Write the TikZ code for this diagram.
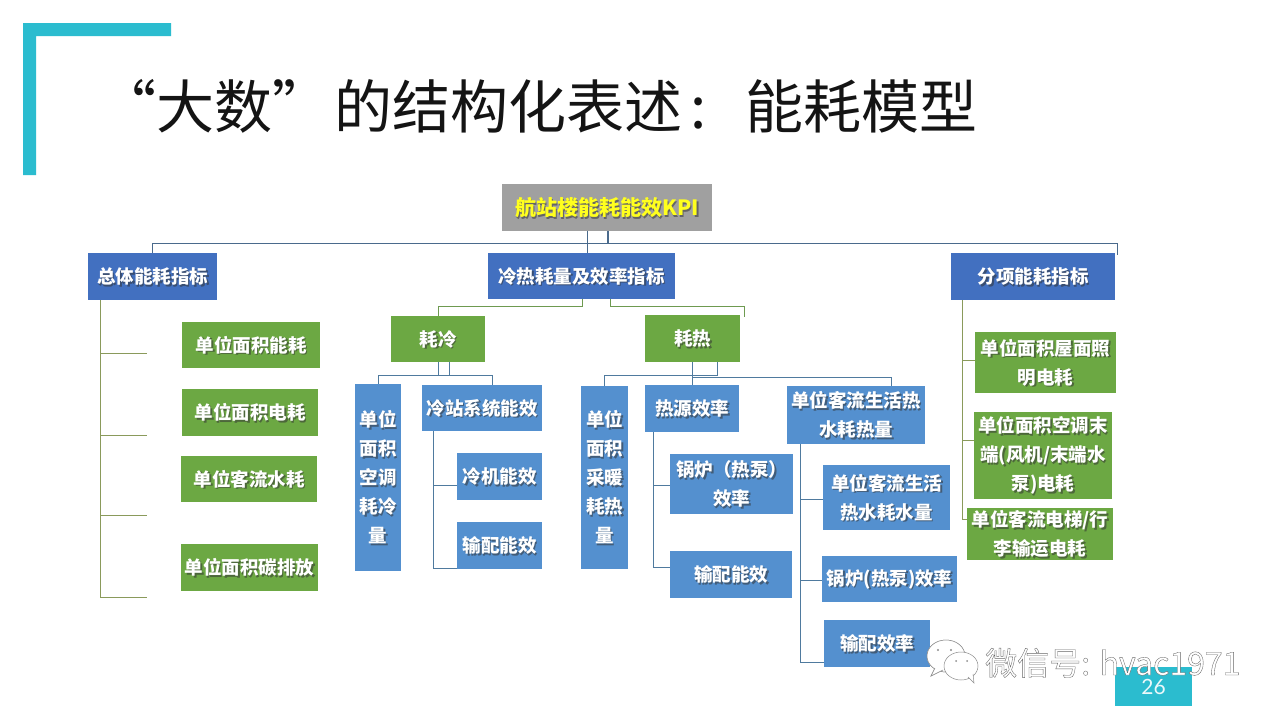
\documentclass[tikz,border=0pt]{standalone}
\usepackage{fontspec}
\setmainfont{Noto Sans CJK SC}
\newfontfamily\latinlight{Lato}
\definecolor{cyanbar}{HTML}{2BBCCF}
\definecolor{lvlone}{HTML}{4270C0}
\definecolor{lvltwo}{HTML}{5490CF}
\definecolor{leafgreen}{HTML}{6CA843}
\definecolor{kpigray}{HTML}{A0A0A0}
\definecolor{kpiyellow}{HTML}{FFFF1E}
\definecolor{linkblue}{HTML}{4F7A9E}
\definecolor{linkdark}{HTML}{4A6A8C}
\definecolor{linkgreen}{HTML}{6E9A50}
\definecolor{linkolive}{HTML}{8A9A5B}
\tikzset{
  boxbase/.style={inner sep=0pt,outer sep=0pt,align=center,text=white,
    font=\fontsize{18.5}{29}\selectfont\bfseries},
  topbox/.style={boxbase,text=kpiyellow,font=\fontsize{21}{29}\selectfont\bfseries},
  linkb/.style={draw=linkblue,line width=1pt},
  linkd/.style={draw=linkdark,line width=1pt},
  linkg/.style={draw=linkgreen,line width=1pt},
  linko/.style={draw=linkolive,line width=1pt},
  bubble/.style={draw=black!45,line width=0.5pt,fill=white},
  dropshade/.style={text=black!80,text opacity=0.55},
}
% name, x1, y1, x2, y2, fill colour, style, text
\newcommand\mybox[8]{%
  \pgfmathsetmacro\bxw{#4-#2}\pgfmathsetmacro\bxh{#5-#3}%
  \pgfmathsetmacro\bxx{(#2+#4)/2}\pgfmathsetmacro\bxy{(#3+#5)/2}%
  \fill[#6] (#2,#3) rectangle (#4,#5);%
  \node[#7,dropshade,minimum width=\bxw pt,minimum height=\bxh pt] (#1shade) at (\bxx+1.6,\bxy+1.6) {#8};%
  \node[#7,minimum width=\bxw pt,minimum height=\bxh pt] (#1) at (\bxx,\bxy) {#8};%
}
\begin{document}
\begin{tikzpicture}[x=1pt,y=-1pt]
\useasboundingbox (0,0) rectangle (1280,720);
\fill[white] (0,0) rectangle (1280,720);
% corner bracket
\fill[cyanbar] (23,23) -- (171,23) -- (171,36) -- (36,36) -- (36,175) -- (23,175) -- cycle;
% title
\node[anchor=base west,inner sep=0pt,text=black!92,font=\fontsize{58}{60}\selectfont] (title) at (98,128)
  {“大数”\hspace{4pt}的结构化表述\hspace{8pt}:\hspace{39pt}能耗模型};
% boxes
\mybox{kpi}{502}{184}{712}{231}{kpigray}{topbox}{航站楼能耗能效KPI}
\mybox{zt}{88}{253}{217}{300}{lvlone}{boxbase}{总体能耗指标}
\mybox{lr}{488}{253}{675}{299}{lvlone}{boxbase}{冷热耗量及效率指标}
\mybox{fx}{951}{253}{1115}{300}{lvlone}{boxbase}{分项能耗指标}
\mybox{za}{182}{322}{320}{368}{leafgreen}{boxbase}{单位面积能耗}
\mybox{zb}{182}{389}{318}{436}{leafgreen}{boxbase}{单位面积电耗}
\mybox{zc}{181}{456}{317}{502}{leafgreen}{boxbase}{单位客流水耗}
\mybox{zd}{181}{544}{318}{591}{leafgreen}{boxbase}{单位面积碳排放}
\mybox{lc}{391}{316}{485}{362}{leafgreen}{boxbase}{耗冷}
\mybox{rh}{645}{315}{740}{362}{leafgreen}{boxbase}{耗热}
\mybox{lcq}{355}{384}{401}{571}{lvltwo}{boxbase}{单位\\面积\\空调\\耗冷\\量}
\mybox{lz}{422}{385}{542}{431}{lvltwo}{boxbase}{冷站系统能效}
\mybox{lj}{457}{453}{542}{500}{lvltwo}{boxbase}{冷机能效}
\mybox{psa}{457}{522}{542}{569}{lvltwo}{boxbase}{输配能效}
\mybox{rq}{581}{386}{628}{569}{lvltwo}{boxbase}{单位\\面积\\采暖\\耗热\\量}
\mybox{rs}{645}{385}{739}{432}{lvltwo}{boxbase}{热源效率}
\mybox{gla}{670}{454}{793}{514}{lvltwo}{boxbase}{锅炉（热泵）\\效率}
\mybox{psb}{670}{551}{792}{598}{lvltwo}{boxbase}{输配能效}
\mybox{ss}{787}{386}{925}{444}{lvltwo}{boxbase}{单位客流生活热\\水耗热量}
\mybox{sw}{823}{465}{950}{530}{lvltwo}{boxbase}{单位客流生活\\热水耗水量}
\mybox{glb}{822}{556}{957}{602}{lvltwo}{boxbase}{锅炉(热泵)效率}
\mybox{psc}{824}{620}{930}{667}{lvltwo}{boxbase}{输配效率}
\mybox{wm}{975}{332}{1116}{393}{leafgreen}{boxbase}{单位面积屋面照\\明电耗}
\mybox{kt}{974}{412}{1112}{499}{leafgreen}{boxbase}{单位面积空调末\\端(风机/末端水\\泵)电耗}
\mybox{dt}{967}{508}{1113}{560}{leafgreen}{boxbase}{单位客流电梯/行\\李输运电耗}
% connectors: top level
\draw[linkd] (kpi.south) -- ++(0,12) -| (zt.north);
\draw[linkd] ([xshift=-20pt]kpi.south) -- ([xshift=5.5pt]lr.north);
\draw[linkd] ([xshift=1.5pt]kpi.south) -- ++(0,12) -| ([xshift=2pt,yshift=-2pt]fx.north east);
% cold/heat
\draw[linkg] ([xshift=.5pt]lr.south) -- ++(0,7) -| (lc.north);
\draw[linkg] ([xshift=28.5pt]lr.south) -- ++(0,7) -| ([xshift=4pt,yshift=-2pt]rh.north east);
\draw[linkb] (lc.south) -- ++(0,13) -| (lcq.north);
\draw[linkb] (lc.south) -- ++(0,13.5) -| ([xshift=10pt]lz.north);
\draw[linkb] ([xshift=11pt]lc.south) -- ++(0,13.5);
\draw[linkb] (rh.south) -- ++(0,13) -| (rq.north);
\draw[linkb] ([xshift=24.5pt]rh.south) -- ++(0,13) -| (rs.north);
\draw[linkb] (rh.south) -- ++(0,15) -| ([xshift=35pt]ss.north);
% trunks
\coordinate (ztroot) at ([xshift=12pt]zt.south west);
\coordinate (zt1) at (147,353);
\coordinate (zt2) at (147,435);
\coordinate (zt3) at (147,515);
\coordinate (zt4) at (147,597);
\draw[linko] (ztroot) |- (zt1);
\draw[linko] (ztroot) |- (zt2);
\draw[linko] (ztroot) |- (zt3);
\draw[linko] (ztroot) |- (zt4);
\coordinate (lzroot) at ([xshift=11pt]lz.south west);
\draw[linkb] (lzroot) |- ([yshift=-8.5pt]lj.west);
\draw[linkb] (lzroot) |- ([yshift=-22.5pt]psa.west);
\coordinate (rsroot) at ([xshift=8pt]rs.south west);
\draw[linkb] (rsroot) |- ([yshift=-1pt]gla.west);
\draw[linkb] (rsroot) |- ([yshift=7.5pt]psb.west);
\coordinate (ssroot) at ([xshift=13pt]ss.south west);
\draw[linkb] (ssroot) |- ([yshift=-1.5pt]sw.west);
\draw[linkb] (ssroot) |- ([yshift=-1pt]glb.west);
\draw[linkb] (ssroot) |- ([yshift=-18.5pt]psc.west);
\coordinate (fxroot) at ([xshift=11pt]fx.south west);
\draw[linko] (fxroot) |- ([yshift=2.5pt]wm.west);
\draw[linko] (fxroot) |- ([yshift=15.5pt]kt.west);
\draw[linko] (fxroot) |- ([yshift=15pt]dt.west);
% page number
\node[fill=cyanbar,minimum width=77pt,minimum height=39pt,inner sep=0pt,text=white!90!cyanbar,
  font=\latinlight\fontsize{21}{24}\selectfont] (page) at (1153.5,686.5) {26};
% watermark
\fill[bubble] (946,656) ellipse (19 and 16);
\fill[bubble] (935,668) -- (931,676) -- (943,670) -- cycle;
\draw[bubble] (946,656) ellipse (19 and 16);
\draw[bubble] (935,668) -- (931,676) -- (943,670);
\fill[black!45] (938,650) circle (1.1) (951,650) circle (1.1);
\draw[bubble] (961,666) ellipse (17 and 14);
\draw[bubble] (968,677) -- (974,683) -- (973,674);
\fill[black!45] (956,661) circle (1) (967,661) circle (1);
\node[anchor=base west,inner sep=0pt,text=white,font=\fontsize{32}{34}\selectfont] (mark) at (985,675)
  {\special{pdf:code 2 Tr 0.35 w 0.4 0.4 0.4 RG}微信号: hvac1971\special{pdf:code 0 Tr 0 0 0 RG}};
\end{tikzpicture}
\end{document}
